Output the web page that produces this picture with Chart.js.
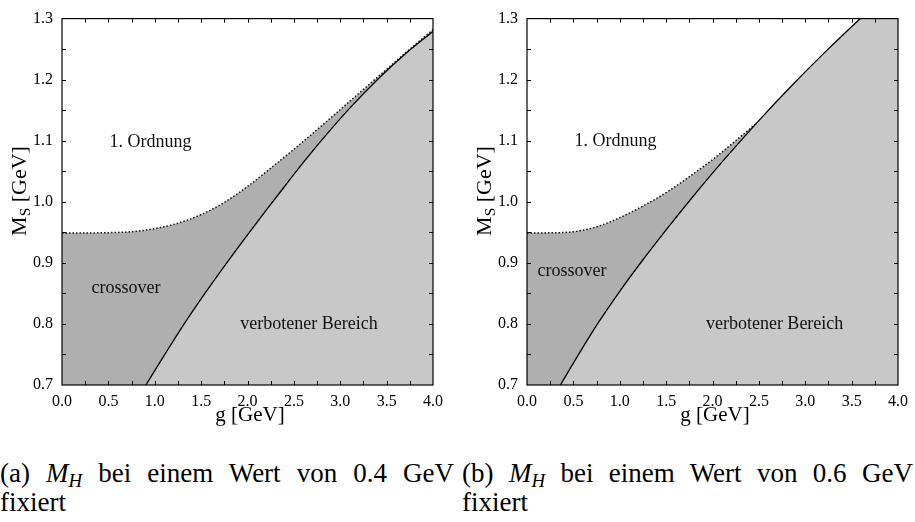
<!DOCTYPE html>
<html>
<head>
<meta charset="utf-8">
<script src="https://cdn.jsdelivr.net/npm/chart.js@4.4.1/dist/chart.umd.min.js"></script>
<style>
  html, body { margin: 0; padding: 0; background: #fff; }
  body { width: 915px; height: 522px; position: relative; overflow: hidden; font-family: 'Liberation Serif', 'Times New Roman', 'DejaVu Serif', serif; color: #000; }
  canvas { position: absolute; top: 0; }
  .ytitle { position: absolute; top: 180px; width: 200px; height: 22px; line-height: 22px; font-size: 22px; text-align: center; transform: rotate(-90deg); white-space: nowrap; }
  .xtitle { position: absolute; top: 403px; width: 200px; line-height: 22px; font-size: 21px; text-align: center; white-space: nowrap; }
  sub { font-size: 0.7em; vertical-align: -0.25em; line-height: 0; }
  .cap { position: absolute; top: 459px; font-size: 27px; line-height: 29px; }
  .cap .l1 { text-align: justify; text-align-last: justify; }
</style>
</head>
<body>
<canvas id="chartA" width="450" height="430" style="left:0"></canvas>
<canvas id="chartB" width="450" height="430" style="left:465px"></canvas>

<div class="ytitle" style="left:-81px">M<sub>S</sub> [GeV]</div>
<div class="ytitle" style="left:384px">M<sub>S</sub> [GeV]</div>
<div class="xtitle" style="left:150px">g [GeV]</div>
<div class="xtitle" style="left:615px">g [GeV]</div>

<div class="cap" style="left:0; width:454px">
  <div class="l1">(a) <i>M<sub>H</sub></i> bei einem Wert von 0.4 GeV</div>
  <div>fixiert</div>
</div>
<div class="cap" style="left:462px; width:451px">
  <div class="l1">(b) <i>M<sub>H</sub></i> bei einem Wert von 0.6 GeV</div>
  <div>fixiert</div>
</div>

<script>
// ---- panel (a): M_H = 0.4 GeV ----
// dotted boundary (1. Ordnung / crossover)
const A_DOT_G = [0.0, 0.25, 0.5, 0.75, 1.0, 1.25, 1.5, 1.75, 2.0, 2.25, 2.5, 2.75, 3.0, 3.25, 3.5, 3.75, 4.0];
const A_DOT_M = [0.949, 0.949, 0.9495, 0.951, 0.956, 0.965, 0.979, 0.999, 1.025, 1.055, 1.086, 1.118, 1.151, 1.184, 1.217, 1.250, 1.282];
// solid boundary (verbotener Bereich)
const A_LINE_G = [0.905, 1.1, 1.3, 1.55, 1.8, 2.0, 2.2, 2.43, 2.6, 2.8, 3.1, 3.4, 3.7, 4.0];
const A_LINE_M = [0.700, 0.748, 0.796, 0.852, 0.905, 0.946, 0.986, 1.031, 1.064, 1.101, 1.153, 1.200, 1.242, 1.279];

// ---- panel (b): M_H = 0.6 GeV ----
const B_DOT_G = [0.0, 0.25, 0.5, 0.75, 1.0, 1.25, 1.5, 1.75, 2.0, 2.25, 2.5];
const B_DOT_M = [0.949, 0.9492, 0.951, 0.959, 0.974, 0.993, 1.015, 1.041, 1.069, 1.100, 1.132];
const B_LINE_G = [0.36, 0.55, 0.76, 1.0, 1.23, 1.5, 1.77, 2.0, 2.27, 2.5, 2.84, 3.2, 3.58, 4.0];
const B_LINE_M = [0.700, 0.7485, 0.800, 0.8535, 0.901, 0.954, 1.005, 1.047, 1.094, 1.133, 1.188, 1.243, 1.298, 1.356];

// region names, placed in data coordinates (left edge, baseline)
const A_LABELS = [
  { text: '1. Ordnung', g: 0.511, m: 1.089 },
  { text: 'crossover', g: 0.319, m: 0.850 },
  { text: 'verbotener Bereich', g: 1.922, m: 0.791 },
];
const B_LABELS = [
  { text: '1. Ordnung', g: 0.511, m: 1.091 },
  { text: 'crossover', g: 0.114, m: 0.879 },
  { text: 'verbotener Bereich', g: 1.929, m: 0.791 },
];

const X_MIN = 0, X_MAX = 4, Y_MIN = 0.7, Y_MAX = 1.3;

const DARK = '#afafaf';
const LIGHT = '#c8c8c8';
const TICK = 4;
const FONT = "'Liberation Serif', 'Times New Roman', serif";

const isMult = (v, step) => Math.abs(v / step - Math.round(v / step)) < 1e-6;
const pts = (gs, ms) => gs.map((g, i) => ({ x: g, y: ms[i] }));

// frame + inward ticks on all four sides + region names
function makeFrame(labels) {
  return {
    id: 'frame',
    afterDatasetsDraw(chart) {
      const { ctx, chartArea: a, scales: { x, y } } = chart;
      ctx.save();
      ctx.strokeStyle = '#000';
      ctx.lineWidth = 1;
      ctx.beginPath();
      x.ticks.forEach(t => {
        if (t.value <= X_MIN + 1e-6 || t.value >= X_MAX - 1e-6) return;
        const px = Math.round(x.getPixelForValue(t.value)) + 0.5;
        ctx.moveTo(px, a.bottom); ctx.lineTo(px, a.bottom - TICK);
        ctx.moveTo(px, a.top); ctx.lineTo(px, a.top + TICK);
      });
      y.ticks.forEach(t => {
        if (t.value <= Y_MIN + 1e-6 || t.value >= Y_MAX - 1e-6) return;
        const py = Math.round(y.getPixelForValue(t.value)) + 0.5;
        ctx.moveTo(a.left, py); ctx.lineTo(a.left + TICK, py);
        ctx.moveTo(a.right, py); ctx.lineTo(a.right - TICK, py);
      });
      ctx.stroke();
      ctx.lineWidth = 1.2;
      ctx.strokeRect(a.left, a.top, a.right - a.left, a.bottom - a.top);

      ctx.fillStyle = '#111';
      ctx.font = '18px ' + FONT;
      ctx.textAlign = 'left';
      ctx.textBaseline = 'alphabetic';
      labels.forEach(l => ctx.fillText(l.text, x.getPixelForValue(l.g), y.getPixelForValue(l.m)));
      ctx.restore();
    }
  };
}

function makeChart(id, dotG, dotM, lineG, lineM, labels) {
  return new Chart(document.getElementById(id), {
    type: 'line',
    data: {
      datasets: [
        {
          label: 'verbotener Bereich',
          data: pts(lineG, lineM),
          borderColor: '#000',
          borderWidth: 1.3,
          backgroundColor: LIGHT,
          fill: 'start',
          pointRadius: 0,
          cubicInterpolationMode: 'monotone',
        },
        {
          label: '1. Ordnung',
          data: pts(dotG, dotM),
          borderColor: '#111',
          borderWidth: 1.5,
          borderDash: [1.5, 2],
          backgroundColor: DARK,
          fill: 'start',
          pointRadius: 0,
          cubicInterpolationMode: 'monotone',
        },
      ]
    },
    options: {
      responsive: false,
      animation: false,
      layout: { padding: { top: 10, right: 12, left: 0, bottom: 0 } },
      plugins: { legend: { display: false }, tooltip: { enabled: false } },
      scales: {
        x: {
          type: 'linear', min: X_MIN, max: X_MAX,
          afterFit: s => { s.height = 45; },
          grid: { display: false, drawTicks: false }, border: { display: false },
          ticks: {
            stepSize: 0.25, autoSkip: false, maxRotation: 0, padding: 7,
            color: '#000', font: { family: FONT, size: 16 },
            callback: v => isMult(v, 0.5) ? v.toFixed(1) : ''
          }
        },
        y: {
          type: 'linear', min: Y_MIN, max: Y_MAX,
          afterFit: s => { s.width = 62; },
          grid: { display: false, drawTicks: false }, border: { display: false },
          ticks: {
            stepSize: 0.05, autoSkip: false, padding: 9,
            color: '#000', font: { family: FONT, size: 16 },
            callback: v => isMult(v, 0.1) ? v.toFixed(1) : ''
          }
        }
      }
    },
    plugins: [makeFrame(labels)]
  });
}

makeChart('chartA', A_DOT_G, A_DOT_M, A_LINE_G, A_LINE_M, A_LABELS);
makeChart('chartB', B_DOT_G, B_DOT_M, B_LINE_G, B_LINE_M, B_LABELS);
</script>
</body>
</html>
